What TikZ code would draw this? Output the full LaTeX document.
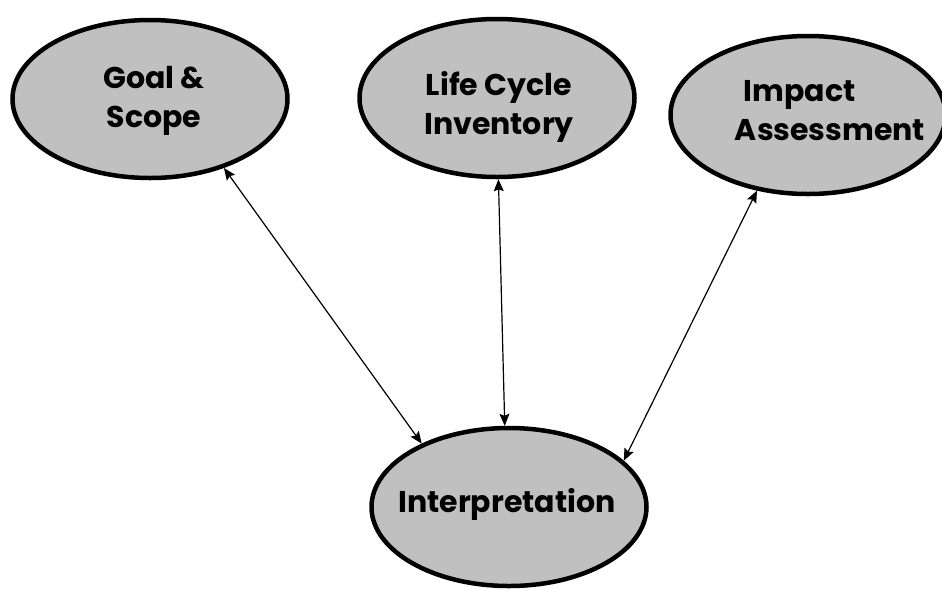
\documentclass[tikz,border=0pt]{standalone}
\usepackage{fontspec}
\setmainfont{Poppins}
\usetikzlibrary{shapes.geometric,arrows.meta}
\definecolor{stagegray}{RGB}{192,192,192}

\begin{document}
\begin{tikzpicture}[x=1pt,y=-1pt,
   stage/.style={ellipse,draw,line width=4.5pt,fill=stagegray,
      minimum width=275pt,minimum height=158pt,inner sep=0pt},
   stagetext/.style={font=\fontsize{30}{39}\selectfont\bfseries,align=center,inner sep=0pt},
   link/.style={line width=1.2pt,{Stealth[length=12pt,width=10pt,inset=2pt]}-{Stealth[length=12pt,width=10pt,inset=2pt]}}]
   \useasboundingbox (0,0) rectangle (942,590);
   \node[stage,label={[stagetext,xshift=4pt,yshift=-2pt]center:{Goal \&\\Scope}}] (goal) at (150,99) {};
   \node[stage,label={[stagetext,xshift=2pt,yshift=-9pt]center:{Life Cycle\\Inventory}}] (lci) at (497,98) {};
   \node[stage,label={[stagetext,align=left,xshift=22pt,yshift=4pt]center:{\hspace*{9pt}Impact\\Assessment}}] (impact) at (808,115) {};
   \node[stage,label={[stagetext,xshift=-2pt,yshift=3pt]center:Interpretation}] (interp) at (509,507) {};
   \draw[link] (goal.-43)    -- (interp.144);
   \draw[link] (lci.-89)     -- (interp.93);
   \draw[link] (impact.-124) -- (interp.22);
\end{tikzpicture}
\end{document}
